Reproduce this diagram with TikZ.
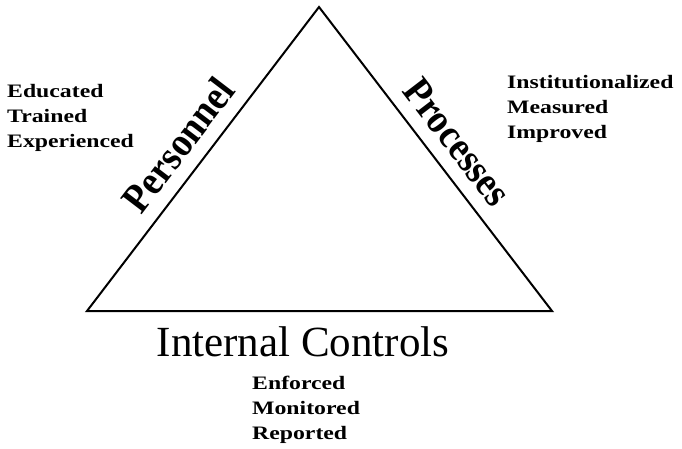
\documentclass[tikz,border=0pt]{standalone}
\usepackage{fontspec}
\setmainfont{Liberation Serif}
\newfontfamily\widefont[FakeStretch=1.25]{Liberation Serif}
\newfontfamily\narrowfont[FakeStretch=0.9]{Liberation Serif}

\begin{document}
\begin{tikzpicture}[
    x = 1pt, y = -1pt,
    side/.style = {font = \narrowfont\fontsize{41}{41}\selectfont\bfseries, inner sep = 2pt},
    traits/.style = {font = \widefont\fontsize{19}{25}\selectfont\bfseries, align = left, inner sep = 0pt},
    base/.style = {font = \fontsize{43}{43}\selectfont}
]

\useasboundingbox (0,0) rectangle (682,448);

\coordinate (left) at (87,311);
\coordinate (top) at (319,7);
\coordinate (right) at (552,311);

\draw[line width = 2pt, line join = miter]
    (left) -- node[side, sloped, above = 11pt, pos = 0.49] (personnel) {Personnel}
    (top) -- node[side, sloped, above = 11pt, pos = 0.5] (processes) {Processes}
    (right) -- cycle;

\node[base] (controls) at (303,342) {Internal Controls};

\node[traits, anchor = north west] (people) at (7,84) {Educated\\Trained\\Experienced};
\node[traits, anchor = north west] (steps) at (507,75) {Institutionalized\\Measured\\Improved};
\node[traits, anchor = north west] (checks) at (252,376) {Enforced\\Monitored\\Reported};

\end{tikzpicture}
\end{document}
